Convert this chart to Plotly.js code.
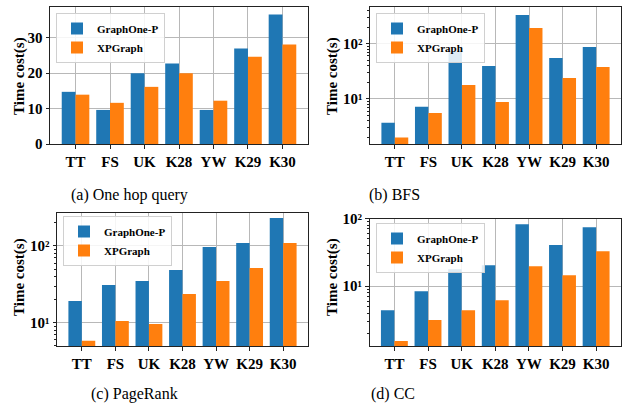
<!DOCTYPE html>
<html>
<head>
<meta charset="utf-8">
<script src="https://cdn.plot.ly/plotly-3.0.1.min.js"></script>
<style>html,body{margin:0;padding:0;background:#fff;}#chart{width:627px;height:406px;}</style>
</head>
<body>
<div id="chart"></div>
<script>
// ---- data ----
const categories = ['TT', 'FS', 'UK', 'K28', 'YW', 'K29', 'K30'];
const seriesNames = ['GraphOne-P', 'XPGraph'];
const oneHopGraphOne = [14.7, 9.6, 19.9, 22.7, 9.6, 26.9, 36.5];
const oneHopXPGraph  = [13.9, 11.6, 16.1, 19.9, 12.2, 24.6, 28.0];
const bfsGraphOne = [3.7, 7.2, 72, 39.5, 330, 55, 87];
const bfsXPGraph  = [2.0, 5.6, 17.9, 8.8, 192, 24, 38];
const prGraphOne = [19.2, 31, 35, 48.6, 97, 109, 232];
const prXPGraph  = [5.8, 10.5, 9.6, 23.7, 35, 51.6, 109];
const ccGraphOne = [4.4, 8.4, 17.8, 20.4, 82, 40.4, 74];
const ccXPGraph  = [1.54, 3.15, 4.4, 6.2, 19.7, 14.5, 32.9];
const captions = ['(a) One hop query', '(b) BFS', '(c) PageRank', '(d) CC'];
const yTitle = 'Time cost(s)';
const linearTicks = [0, 10, 20, 30];
const logTicks = [10, 100];
const logTickText = ['10\u00B9', '10\u00B2'];

// ---- styling ----
const W = 627, H = 406;
const colors = ['#1f77b4', '#ff7f0e'];
const serif = '"Liberation Serif"';
const boldFont = {family: serif, size: 15, color: '#000', weight: 'bold'};

const panels = [
  {g: oneHopGraphOne, x: oneHopXPGraph, log: false, range: [0, 38.6],
   dom: {x: [50, 308], y: [7, 144]}, leg: [56, 13], yt: [19, 76], cap: [129, 195]},
  {g: bfsGraphOne, x: bfsXPGraph, log: true, range: [0.185, 2.664],
   dom: {x: [370, 621], y: [7, 144]}, leg: [376, 13], yt: [332, 76], cap: [394, 195]},
  {g: prGraphOne, x: prXPGraph, log: true, range: [0.696, 2.434],
   dom: {x: [57, 308], y: [212.7, 346]}, leg: [63, 216], yt: [19, 277], cap: [134, 394]},
  {g: ccGraphOne, x: ccXPGraph, log: true, range: [0.114, 2.0],
   dom: {x: [369.5, 621], y: [218.5, 346]}, leg: [376, 223], yt: [332, 277], cap: [393, 394]}
];

function minorVals(lo, hi) {
  const v = [];
  for (let e = Math.floor(lo); e <= Math.ceil(hi); e++) {
    for (let m = 2; m <= 9; m++) {
      const val = m * Math.pow(10, e);
      const lv = Math.log10(val);
      if (lv >= lo && lv <= hi) v.push(val);
    }
  }
  return v;
}

const data = [];
const layout = {
  width: W, height: H,
  margin: {l: 0, r: 0, t: 0, b: 0},
  paper_bgcolor: '#fff', plot_bgcolor: '#fff',
  barmode: 'group', bargap: 0.2, bargroupgap: 0,
  showlegend: true,
  annotations: [],
  font: {family: serif, size: 15, color: '#000'}
};

panels.forEach((p, i) => {
  const n = i === 0 ? '' : String(i + 1);
  const xa = 'x' + n, ya = 'y' + n;
  const legName = 'legend' + n;
  [p.g, p.x].forEach((vals, k) => {
    data.push({
      type: 'bar', x: categories, y: vals, name: seriesNames[k],
      xaxis: xa, yaxis: ya, legend: legName,
      marker: {color: colors[k], line: {width: 0}},
      hoverinfo: 'skip'
    });
  });
  const xd = [p.dom.x[0] / W, p.dom.x[1] / W];
  const yd = [1 - p.dom.y[1] / H, 1 - p.dom.y[0] / H];
  layout['xaxis' + n] = {
    domain: xd, anchor: ya, type: 'category', range: [-0.74, 6.74],
    showgrid: true, gridcolor: '#b8b8b8', gridwidth: 1,
    showline: true, linecolor: '#222', linewidth: 1, mirror: true,
    ticks: 'outside', ticklen: 3.5, tickcolor: '#222', tickwidth: 1,
    tickfont: boldFont, fixedrange: true, zeroline: false
  };
  const yax = {
    domain: yd, anchor: xa, range: p.range,
    showgrid: true, gridcolor: '#b8b8b8', gridwidth: 1,
    showline: true, linecolor: '#222', linewidth: 1, mirror: true,
    ticks: 'outside', ticklen: 3.5, tickcolor: '#222', tickwidth: 1,
    tickfont: boldFont, fixedrange: true, zeroline: false
  };
  if (p.log) {
    yax.type = 'log';
    yax.tickmode = 'array';
    yax.tickvals = logTicks;
    yax.ticktext = logTickText;
    yax.minor = {tickmode: 'array', tickvals: minorVals(p.range[0], p.range[1]),
                 ticks: 'outside', ticklen: 2, tickcolor: '#222', showgrid: false};
  } else {
    yax.tickmode = 'array';
    yax.tickvals = linearTicks;
  }
  layout['yaxis' + n] = yax;
  layout[legName] = {
    x: p.leg[0] / W, y: 1 - p.leg[1] / H, xanchor: 'left', yanchor: 'top',
    xref: 'paper', yref: 'paper',
    bgcolor: 'rgba(255,255,255,0.85)', bordercolor: '#d0d0d0', borderwidth: 1,
    font: {family: serif, size: 11, color: '#000', weight: 'bold'},
    tracegroupgap: 0, itemwidth: 30
  };
  layout.annotations.push({
    text: yTitle, textangle: -90, showarrow: false,
    xref: 'paper', yref: 'paper', x: p.yt[0] / W, y: 1 - p.yt[1] / H,
    xanchor: 'center', yanchor: 'middle',
    font: boldFont
  });
  layout.annotations.push({
    text: captions[i], showarrow: false,
    xref: 'paper', yref: 'paper', x: p.cap[0] / W, y: 1 - p.cap[1] / H,
    xanchor: 'center', yanchor: 'middle',
    font: {family: serif, size: 16, color: '#000'}
  });
});

Plotly.newPlot('chart', data, layout, {displayModeBar: false, staticPlot: true});
</script>
</body>
</html>
